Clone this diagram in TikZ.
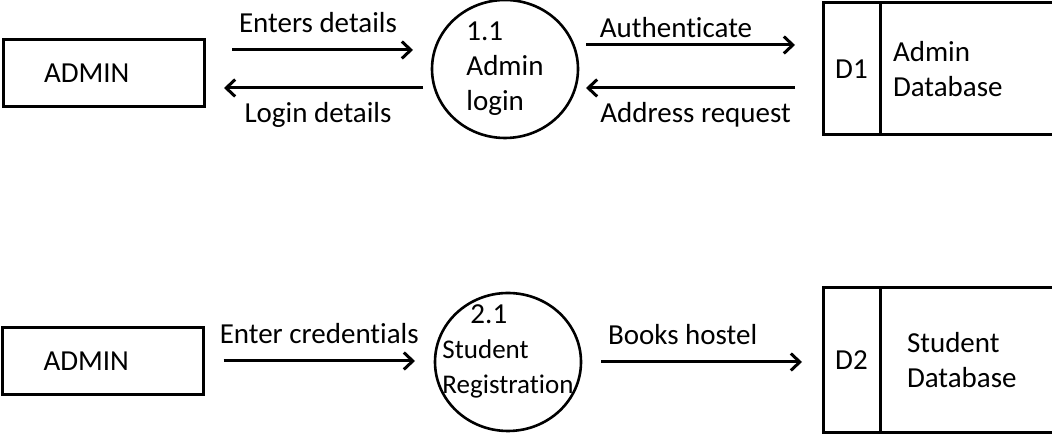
\documentclass[tikz,border=0pt]{standalone}
\usepackage{fontspec}
\setmainfont{Carlito}[Ligatures=NoCommon]
\usetikzlibrary{arrows.meta,shapes.geometric,positioning}
\tikzset{
    basic/.style = {draw, line width=3pt, outer sep=0pt, font=\fontsize{29}{35}\selectfont},
    entity/.style = {basic, rectangle, minimum height=67pt, text width=119pt, inner xsep=41pt, inner ysep=0pt, align=left},
    process/.style = {basic, ellipse, line width=2.6pt, minimum width=146pt, minimum height=138pt, inner sep=-25pt, align=left},
    store id/.style = {basic, rectangle, minimum width=57pt, inner sep=0pt},
    store name/.style = {basic, rectangle, text width=180pt, inner ysep=0pt, align=left, anchor=north west},
    flow/.style = {-{Straight Barb[length=9pt,width=17pt]}, line width=3pt},
    flow label/.style = {font=\fontsize{29}{35}\selectfont, inner sep=0pt}
}
\begin{document}
\begin{tikzpicture}[x=1pt, y=1pt]
    \clip (0,0) rectangle (1052,435);
    \node[entity] (admin1) at (103.5,361.5) {ADMIN};
    \node[process] (login) at (505,366) {1.1\\Admin\\login};
    \node[store id, minimum height=132pt] (d1) at (851.5,366) {D1};
    \node[store name, minimum height=132pt, inner xsep=13pt] (admindb) at (d1.north east) {Admin\\Database};
    \draw[flow, shorten <=28pt, shorten >=19pt] ([yshift=23.5pt]admin1.east) -- ([yshift=23.5pt]admin1.east -| login.west)
        node[flow label, midway, above=16pt] {Enters details};
    \draw[flow, shorten <=9pt, shorten >=20pt] ([yshift=-14.5pt]admin1.east -| login.west) -- ([yshift=-14.5pt]admin1.east)
        node[flow label, midway, below=13pt] {Login details};
    \draw[flow, shorten <=8pt, shorten >=28pt] ([yshift=24pt]login.east) -- ([yshift=24pt]login.east -| d1.west)
        node[flow label, pos=0.4, above=6pt] {Authenticate};
    \draw[flow, shorten <=28pt, shorten >=8pt] ([yshift=-19pt]login.east -| d1.west) -- ([yshift=-19pt]login.east)
        node[flow label, pos=0.52, below=13pt] {Address request};

    \node[entity] (admin2) at (103,74) {ADMIN};
    \node[process, text depth=26pt] (reg) at (508,73) {\hspace*{28pt}2.1\\{\fontsize{27}{32}\selectfont Student}\\{\fontsize{27}{32}\selectfont Registration}};
    \node[store id, minimum height=145pt] (d2) at (851.5,74.5) {D2};
    \node[store name, minimum height=145pt, inner xsep=27pt] (studentdb) at (d2.north east) {Student\\Database};
    \draw[flow, shorten <=20pt, shorten >=20pt] (admin2.east) -- (admin2.east -| reg.west)
        node[flow label, midway, above=16pt] {Enter credentials};
    \draw[flow, shorten <=20pt, shorten >=21pt] (reg.east) -- (reg.east -| d2.west)
        node[flow label, pos=0.42, above=16pt] {Books hostel};
\end{tikzpicture}
\end{document}
